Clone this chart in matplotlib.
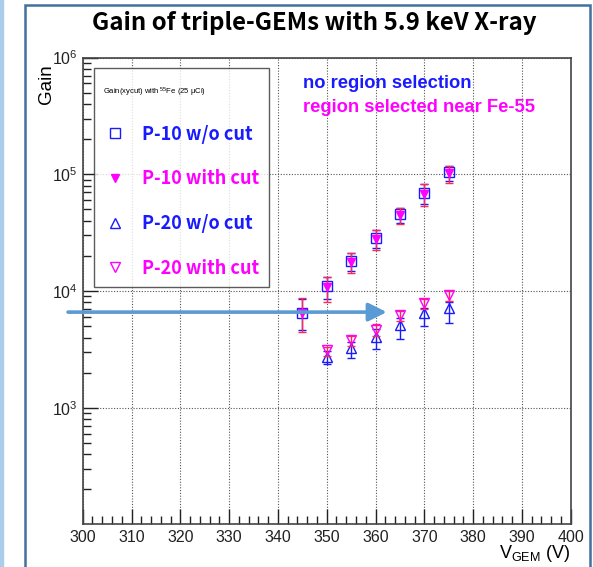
import numpy as np
import matplotlib.pyplot as plt
from matplotlib.lines import Line2D
from matplotlib.patches import Rectangle
from matplotlib.ticker import MultipleLocator, LogLocator

plt.rcParams['font.family'] = ['Liberation Sans', 'DejaVu Sans']
plt.rcParams['mathtext.default'] = 'regular'

# ── データ ──────────────────────────────────────────────
v_p10 = [345, 350, 355, 360, 365, 370, 375]
g_p10 = [6500, 11000, 18000, 28200, 45500, 69000, 104000]
g_p10_cut = [6500, 10800, 17800, 27800, 45000, 68000, 103000]
g_p10_lo = [2050, 2700, 3500, 5500, 7700, 14700, 18000]
g_p10_hi = [2200, 2400, 3500, 5800, 6400, 15300, 14700]

v_p20 = [350, 355, 360, 365, 370, 375]
g_p20 = [2740, 3240, 4070, 5120, 6440, 7200]
g_p20_cut = [3130, 3800, 4640, 6240, 7850, 9250]
g_p20_lo = [370, 550, 900, 1250, 1450, 1840]
g_p20_hi = [300, 400, 650, 700, 750, 800]
g_p20_cut_lo = [350, 420, 550, 700, 900, 1100]
g_p20_cut_hi = [210, 350, 580, 520, 650, 750]

BLUE = '#1a1aff'
MAG = '#ff00ff'
ERR = '#ff2850'

fig = plt.figure(figsize=(5.93, 5.67), dpi=100)
W, H = 593, 567

# 外枠 (スライド風)
fig.patches.append(Rectangle((0, 0), 3 / W, 1, transform=fig.transFigure,
                             color='#a9cdea', zorder=0))
fig.patches.append(Rectangle((25 / W, -0.05), 565 / W, 1.05 - 5 / H,
                             transform=fig.transFigure, fill=False,
                             ec='#41719c', lw=1.8, zorder=0))

ax = fig.add_axes([82.7 / W, 1 - 524 / H, 488 / W, 466.4 / H])

# P-10
ax.errorbar(v_p10, g_p10, yerr=[np.array(g_p10_lo) * 0.9, np.array(g_p10_hi) * 0.9],
            fmt='s', mfc='none', mec=BLUE, ms=7, mew=1.0,
            ecolor=BLUE, elinewidth=1.0, capsize=3, zorder=3)
ax.errorbar(v_p10, g_p10_cut, yerr=[g_p10_lo, g_p10_hi],
            fmt='v', color=MAG, ms=6, ecolor=ERR, elinewidth=1.0,
            capsize=3, zorder=4)
# P-20
ax.errorbar(v_p20, g_p20, yerr=[g_p20_lo, g_p20_hi],
            fmt='^', mfc='none', mec=BLUE, ms=7, mew=1.0,
            ecolor=BLUE, elinewidth=1.0, capsize=3, zorder=3)
ax.errorbar(v_p20, g_p20_cut, yerr=[g_p20_cut_lo, g_p20_cut_hi],
            fmt='v', mfc='none', mec=MAG, ms=7, mew=1.0,
            ecolor=ERR, elinewidth=1.0, capsize=3, zorder=4)

ax.set_yscale('log')
ax.set_xlim(300, 400)
ax.set_ylim(101, 1e6)
ax.xaxis.set_major_locator(MultipleLocator(10))
ax.xaxis.set_minor_locator(MultipleLocator(2))
ax.yaxis.set_major_locator(LogLocator(base=10, numticks=10))
ax.yaxis.set_minor_locator(LogLocator(base=10, subs=np.arange(2, 10), numticks=20))
ax.tick_params(which='both', direction='in', top=False, right=False,
               labelsize=11.5, colors='#222222')
ax.tick_params(which='major', length=10.5, width=1.0)
ax.tick_params(which='minor', length=5.5, width=1.0)
ax.tick_params(axis='x', pad=4)
ax.grid(which='major', ls=(0, (1, 1.5)), color='#555555', lw=0.8)
for sp in ax.spines.values():
    sp.set_color('#444444')
    sp.set_linewidth(1.2)

ax.set_ylabel('Gain', loc='top', fontsize=13.5, labelpad=-2)
ax.yaxis.label.set_y(0.985)
ax.set_xlabel(r'$V_{GEM}$ (V)', loc='right', fontsize=13, labelpad=-1)

# 矢印
ax.annotate('', xy=(362.3, 6600), xytext=(297.0, 6600),
            arrowprops=dict(arrowstyle='-|>,head_length=1.1,head_width=0.55',
                            color='#5b9bd5', lw=2.6, shrinkA=0, shrinkB=0),
            annotation_clip=False, zorder=5)

# 凡例
handles = [
    Line2D([], [], ls='none', marker='s', mfc='none', mec=BLUE, ms=7),
    Line2D([], [], ls='none', marker='v', color=MAG, ms=6),
    Line2D([], [], ls='none', marker='^', mfc='none', mec=BLUE, ms=7),
    Line2D([], [], ls='none', marker='v', mfc='none', mec=MAG, ms=7),
]
labels = ['P-10 w/o cut', 'P-10 with cut', 'P-20 w/o cut', 'P-20 with cut']
leg = ax.legend(handles, labels, loc='upper left',
                bbox_to_anchor=((94 - 82.7) / 488, 1 - (68 - 57.6) / 466.4),
                title='\n' + r'Gain(xycut) with $^{55}$Fe (25 $\mu$Ci)',
                title_fontproperties={'size': 5.5, 'family': 'Liberation Sans'},
                prop={'family': 'Noto Sans CJK KR', 'weight': 'bold', 'size': 13},
                labelcolor=[BLUE, MAG, BLUE, MAG],
                frameon=True, fancybox=False, edgecolor='#333333',
                borderpad=0.5, labelspacing=1.42, handletextpad=0.85,
                handlelength=1.33, borderaxespad=0)
leg._legend_box.align = 'left'
leg.get_frame().set_linewidth(1.0)

fig.text(303 / W, 1 - 84 / H, 'no region selection', color=BLUE,
         fontsize=13.2, fontweight='bold', va='center')
fig.text(303 / W, 1 - 107 / H, 'region selected near Fe-55', color=MAG,
         fontsize=13.2, fontweight='bold', va='center')

fig.suptitle('Gain of triple-GEMs with 5.9 keV X-ray', x=314 / W, y=1 - 23 / H,
             va='center', fontsize=17.3, fontweight='bold',
             family='Noto Sans CJK KR')

fig.savefig('out.png', dpi=100)
